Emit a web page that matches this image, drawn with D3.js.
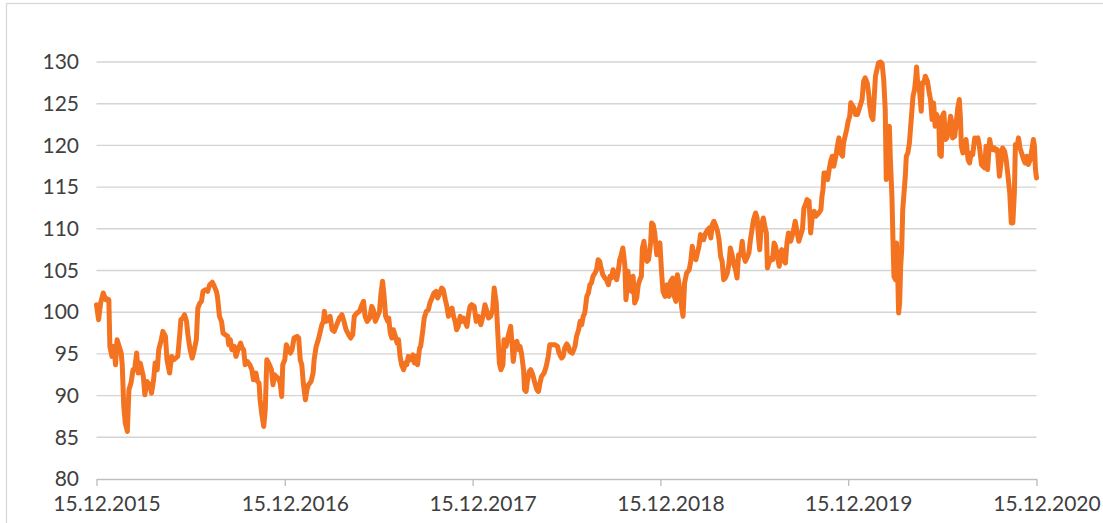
<!DOCTYPE html>
<html>
<head>
<meta charset="utf-8">
<script src="https://cdn.jsdelivr.net/npm/d3@7"></script>
<style>
  body { margin: 0; background: #fff; }
  svg { display: block; }
  .axis text { font-family: Lato, "Open Sans", sans-serif; font-size: 21px; fill: #404040; }
</style>
</head>
<body>
<script>
// index level (15.12.2015 - 15.12.2020)
var dates = [
  "2015-12-15","2015-12-19","2015-12-23","2015-12-28","2016-01-02","2016-01-05","2016-01-08","2016-01-10","2016-01-14","2016-01-18",
  "2016-01-21","2016-01-24","2016-01-29","2016-02-01","2016-02-03","2016-02-06","2016-02-09","2016-02-13","2016-02-16","2016-02-20",
  "2016-02-24","2016-02-27","2016-03-02","2016-03-05","2016-03-09","2016-03-15","2016-03-18","2016-03-22","2016-03-27","2016-03-31",
  "2016-04-04","2016-04-07","2016-04-11","2016-04-14","2016-04-19","2016-04-22","2016-04-27","2016-04-30","2016-05-05","2016-05-09",
  "2016-05-13","2016-05-21","2016-05-25","2016-05-27","2016-05-31","2016-06-03","2016-06-07","2016-06-10","2016-06-14","2016-06-18",
  "2016-06-22","2016-06-26","2016-06-29","2016-07-03","2016-07-06","2016-07-09","2016-07-14","2016-07-18","2016-07-22","2016-07-27",
  "2016-07-31","2016-08-04","2016-08-06","2016-08-10","2016-08-14","2016-08-17","2016-08-21","2016-08-26","2016-08-28","2016-08-31",
  "2016-09-03","2016-09-08","2016-09-11","2016-09-15","2016-09-20","2016-09-23","2016-09-26","2016-09-29","2016-10-03","2016-10-08",
  "2016-10-12","2016-10-15","2016-10-20","2016-10-23","2016-10-26","2016-10-28","2016-10-31","2016-11-04","2016-11-07","2016-11-10",
  "2016-11-15","2016-11-19","2016-11-22","2016-11-25","2016-11-28","2016-12-02","2016-12-06","2016-12-09","2016-12-11","2016-12-15",
  "2016-12-18","2016-12-22","2016-12-26","2016-12-29","2017-01-02","2017-01-08","2017-01-11","2017-01-14","2017-01-17","2017-01-20",
  "2017-01-24","2017-01-27","2017-01-30","2017-02-04","2017-02-08","2017-02-10","2017-02-14","2017-02-19","2017-02-22","2017-02-25",
  "2017-02-28","2017-03-02","2017-03-05","2017-03-10","2017-03-13","2017-03-17","2017-03-21","2017-03-26","2017-03-31","2017-04-05",
  "2017-04-09","2017-04-13","2017-04-18","2017-04-22","2017-04-26","2017-04-29","2017-05-04","2017-05-09","2017-05-14","2017-05-17",
  "2017-05-20","2017-05-24","2017-05-29","2017-06-02","2017-06-05","2017-06-09","2017-06-13","2017-06-17","2017-06-20","2017-06-23",
  "2017-06-26","2017-06-29","2017-07-03","2017-07-05","2017-07-08","2017-07-11","2017-07-14","2017-07-18","2017-07-21","2017-07-24",
  "2017-07-27","2017-07-30","2017-08-03","2017-08-06","2017-08-09","2017-08-12","2017-08-17","2017-08-21","2017-08-24","2017-08-27",
  "2017-08-30","2017-09-03","2017-09-05","2017-09-09","2017-09-12","2017-09-16","2017-09-20","2017-09-23","2017-09-27","2017-10-01",
  "2017-10-05","2017-10-08","2017-10-11","2017-10-16","2017-10-19","2017-10-23","2017-10-26","2017-10-29","2017-11-01","2017-11-05",
  "2017-11-08","2017-11-11","2017-11-14","2017-11-17","2017-11-21","2017-11-24","2017-11-27","2017-11-30","2017-12-04","2017-12-07",
  "2017-12-10","2017-12-13","2017-12-18","2017-12-22","2017-12-26","2017-12-31","2018-01-04","2018-01-08","2018-01-11","2018-01-15",
  "2018-01-19","2018-01-23","2018-01-26","2018-01-30","2018-02-01","2018-02-05","2018-02-08","2018-02-12","2018-02-14","2018-02-18",
  "2018-02-22","2018-02-27","2018-03-02","2018-03-04","2018-03-08","2018-03-11","2018-03-15","2018-03-17","2018-03-20","2018-03-24",
  "2018-03-26","2018-03-29","2018-03-31","2018-04-04","2018-04-07","2018-04-11","2018-04-15","2018-04-19","2018-04-22","2018-04-25",
  "2018-04-28","2018-05-03","2018-05-07","2018-05-11","2018-05-14","2018-05-20","2018-05-24","2018-05-29","2018-06-01","2018-06-06",
  "2018-06-09","2018-06-12","2018-06-16","2018-06-19","2018-06-22","2018-06-27","2018-07-02","2018-07-05","2018-07-09","2018-07-12",
  "2018-07-15","2018-07-18","2018-07-21","2018-07-25","2018-07-28","2018-07-31","2018-08-03","2018-08-06","2018-08-10","2018-08-13",
  "2018-08-16","2018-08-19","2018-08-21","2018-08-25","2018-08-29","2018-09-01","2018-09-05","2018-09-08","2018-09-11","2018-09-14",
  "2018-09-18","2018-09-21","2018-09-24","2018-09-27","2018-09-30","2018-10-03","2018-10-05","2018-10-07","2018-10-09","2018-10-11",
  "2018-10-13","2018-10-17","2018-10-20","2018-10-23","2018-10-26","2018-10-30","2018-11-02","2018-11-05","2018-11-08","2018-11-10",
  "2018-11-13","2018-11-16","2018-11-19","2018-11-22","2018-11-26","2018-11-28","2018-12-01","2018-12-04","2018-12-08","2018-12-11",
  "2018-12-14","2018-12-17","2018-12-20","2018-12-24","2018-12-28","2019-01-01","2019-01-04","2019-01-08","2019-01-11","2019-01-14",
  "2019-01-17","2019-01-20","2019-01-23","2019-01-26","2019-01-28","2019-01-31","2019-02-04","2019-02-09","2019-02-12","2019-02-15",
  "2019-02-18","2019-02-22","2019-02-25","2019-02-28","2019-03-03","2019-03-06","2019-03-09","2019-03-13","2019-03-17","2019-03-20",
  "2019-03-23","2019-03-26","2019-03-29","2019-04-02","2019-04-05","2019-04-08","2019-04-11","2019-04-14","2019-04-17","2019-04-20",
  "2019-04-24","2019-04-27","2019-04-30","2019-05-04","2019-05-07","2019-05-10","2019-05-13","2019-05-16","2019-05-20","2019-05-23",
  "2019-05-26","2019-05-29","2019-06-01","2019-06-05","2019-06-08","2019-06-11","2019-06-14","2019-06-18","2019-06-21","2019-06-24",
  "2019-06-26","2019-06-29","2019-07-03","2019-07-06","2019-07-09","2019-07-11","2019-07-14","2019-07-18","2019-07-21","2019-07-24",
  "2019-07-27","2019-07-30","2019-08-03","2019-08-05","2019-08-08","2019-08-12","2019-08-15","2019-08-18","2019-08-21","2019-08-25",
  "2019-08-28","2019-08-31","2019-09-03","2019-09-07","2019-09-10","2019-09-13","2019-09-17","2019-09-20","2019-09-23","2019-09-26",
  "2019-09-30","2019-10-03","2019-10-06","2019-10-10","2019-10-13","2019-10-16","2019-10-19","2019-10-23","2019-10-25","2019-10-27",
  "2019-10-29","2019-11-01","2019-11-05","2019-11-08","2019-11-11","2019-11-14","2019-11-17","2019-11-21","2019-11-24","2019-11-27",
  "2019-11-30","2019-12-04","2019-12-06","2019-12-09","2019-12-12","2019-12-15","2019-12-18","2019-12-20","2019-12-22","2019-12-26",
  "2019-12-29","2020-01-02","2020-01-04","2020-01-08","2020-01-11","2020-01-14","2020-01-17","2020-01-21","2020-01-24","2020-01-26",
  "2020-01-29","2020-02-01","2020-02-03","2020-02-06","2020-02-09","2020-02-12","2020-02-16","2020-02-19","2020-02-22","2020-02-25",
  "2020-02-27","2020-03-01","2020-03-04","2020-03-06","2020-03-09","2020-03-11","2020-03-13","2020-03-16","2020-03-18","2020-03-20",
  "2020-03-22","2020-03-24","2020-03-26","2020-03-28","2020-03-30","2020-04-01","2020-04-04","2020-04-06","2020-04-09","2020-04-12",
  "2020-04-16","2020-04-19","2020-04-22","2020-04-24","2020-04-26","2020-04-28","2020-05-02","2020-05-05","2020-05-07","2020-05-10",
  "2020-05-13","2020-05-17","2020-05-20","2020-05-23","2020-05-26","2020-05-29","2020-06-01","2020-06-04","2020-06-08","2020-06-10",
  "2020-06-13","2020-06-15","2020-06-18","2020-06-21","2020-06-24","2020-06-27","2020-07-01","2020-07-03","2020-07-05","2020-07-09",
  "2020-07-12","2020-07-15","2020-07-18","2020-07-20","2020-07-22","2020-07-25","2020-07-28","2020-07-31","2020-08-04","2020-08-07",
  "2020-08-10","2020-08-13","2020-08-17","2020-08-20","2020-08-23","2020-08-26","2020-08-30","2020-09-02","2020-09-05","2020-09-08",
  "2020-09-11","2020-09-15","2020-09-18","2020-09-21","2020-09-24","2020-09-28","2020-09-30","2020-10-04","2020-10-07","2020-10-10",
  "2020-10-14","2020-10-17","2020-10-20","2020-10-24","2020-10-27","2020-10-30","2020-11-02","2020-11-04","2020-11-07","2020-11-10",
  "2020-11-13","2020-11-16","2020-11-20","2020-11-23","2020-11-26","2020-11-29","2020-12-03","2020-12-06","2020-12-09","2020-12-11",
  "2020-12-13","2020-12-15"
];

var values = [
  100.9, 99.1, 101.1, 102.3, 101.5, 101.6, 101.5, 95.9, 94.7, 95.9,
  93.7, 96.7, 95.7, 95.1, 93.7, 88.7, 86.7, 85.7, 90.7, 91.5,
  93.1, 93.1, 95.1, 92.7, 93.9, 92.3, 90.1, 91.7, 91.3, 90.3,
  91.9, 93.9, 93.1, 95.5, 96.7, 97.7, 97.1, 94.3, 92.7, 94.7,
  94.3, 94.7, 97.5, 99.1, 99.3, 99.7, 98.9, 97.1, 95.5, 94.5,
  95.5, 96.7, 100.5, 101.1, 101.3, 102.5, 102.7, 102.5, 103.3, 103.6,
  103.1, 102.5, 101.9, 99.5, 98.9, 97.5, 97.3, 97.1, 96.1, 96.7,
  95.5, 95.9, 94.7, 95.5, 96.3, 95.7, 95.5, 93.7, 94.1, 93.7,
  93.1, 91.9, 92.7, 91.7, 91.5, 89.5, 87.9, 86.3, 88.3, 94.3,
  93.7, 93.1, 91.3, 92.5, 92.3, 92.1, 91.5, 89.9, 93.7, 94.3,
  96.1, 95.5, 95.1, 95.5, 96.9, 97.1, 96.9, 94.3, 93.7, 91.5,
  89.5, 90.7, 91.3, 91.7, 92.7, 94.3, 95.9, 96.9, 97.7, 98.5,
  98.9, 100.1, 98.9, 99.1, 99.5, 97.9, 97.7, 98.5, 99.3, 99.7,
  98.9, 97.9, 97.3, 96.9, 97.3, 99.5, 99.9, 100.1, 100.9, 101.3,
  99.5, 98.9, 99.3, 100.7, 100.3, 98.9, 99.5, 100.1, 102.3, 103.7,
  101.9, 99.5, 98.9, 99.3, 97.5, 96.9, 97.9, 97.1, 96.3, 96.7,
  94.7, 93.7, 93.1, 93.9, 93.7, 94.7, 94.3, 94.9, 93.9, 94.7,
  93.7, 95.7, 95.9, 97.7, 99.3, 100.1, 100.3, 101.1, 101.7, 102.3,
  102.5, 101.7, 102.1, 102.9, 102.7, 101.5, 100.7, 99.5, 100.1, 100.5,
  99.5, 98.9, 97.9, 98.3, 99.5, 98.9, 99.3, 98.9, 98.3, 99.7,
  100.7, 100.9, 100.7, 98.9, 99.5, 98.5, 99.5, 100.9, 100.3, 99.3,
  99.5, 100.3, 102.9, 101.1, 98.7, 93.9, 93.1, 93.7, 96.7, 95.9,
  97.1, 98.3, 95.9, 94.1, 96.3, 96.5, 95.5, 95.9, 95.1, 93.1,
  90.7, 90.5, 91.5, 92.9, 93.1, 92.5, 91.5, 90.7, 90.5, 91.5,
  92.3, 92.7, 93.5, 94.7, 96.1, 96.1, 96.1, 95.9, 95.1, 94.5,
  94.7, 95.7, 96.2, 95.9, 95.3, 95.1, 95.9, 97.1, 97.9, 98.9,
  98.5, 99.5, 99.9, 101.9, 102.3, 103.3, 103.5, 104.3, 104.7, 105.1,
  106.3, 106.1, 105.5, 104.5, 104.1, 103.9, 103.3, 104.3, 104.1, 105.1,
  104.5, 103.9, 104.9, 106.3, 106.9, 107.7, 106.7, 105.5, 101.5, 102.7,
  104.9, 102.7, 102.5, 104.3, 101.1, 101.7, 103.3, 103.9, 104.3, 107.7,
  108.5, 106.7, 106.1, 106.3, 108.3, 110.7, 110.5, 109.5, 106.9, 108.1,
  108.3, 105.1, 102.5, 101.9, 103.3, 101.9, 103.7, 104.1, 101.9, 101.3,
  104.5, 103.5, 101.9, 100.3, 99.5, 103.5, 104.7, 105.1, 106.1, 107.9,
  106.7, 106.3, 107.1, 107.9, 109.3, 109.1, 108.7, 109.5, 109.9, 110.1,
  108.9, 110.5, 110.9, 110.3, 109.7, 108.7, 106.7, 106.1, 103.9, 104.1,
  104.7, 105.7, 107.7, 106.7, 105.7, 105.1, 104.1, 106.9, 106.9, 108.5,
  106.7, 106.1, 106.5, 107.1, 108.7, 109.9, 111.1, 111.9, 111.3, 108.7,
  107.5, 110.3, 111.3, 110.3, 109.5, 105.3, 105.9, 106.5, 106.3, 108.3,
  107.9, 106.7, 105.5, 107.1, 107.5, 106.1, 105.9, 108.3, 109.5, 108.5,
  109.1, 109.9, 110.9, 109.5, 108.5, 109.1, 109.9, 112.5, 112.9, 113.5,
  113.3, 109.5, 111.3, 112.1, 111.5, 111.7, 111.9, 112.3, 113.9, 114.7,
  116.7, 116.7, 115.9, 117.1, 118.1, 118.7, 117.5, 118.7, 119.9, 120.9,
  119.1, 118.7, 120.3, 121.1, 121.9, 122.9, 123.5, 125.1, 124.9, 124.5,
  123.7, 123.7, 124.1, 124.9, 125.5, 127.7, 128.1, 127.5, 126.1, 124.7,
  123.5, 123.1, 125.1, 128.3, 129.1, 129.9, 130.0, 129.8, 127.9, 124.3,
  115.9, 117.1, 122.3, 118.3, 113.9, 108.7, 104.3, 103.9, 108.3, 105.1,
  99.9, 101.1, 105.5, 107.5, 112.3, 113.9, 116.3, 118.7, 119.1, 120.3,
  123.5, 125.9, 126.7, 127.9, 129.4, 127.5, 126.3, 124.1, 127.5, 127.5,
  128.3, 127.7, 126.5, 125.5, 123.1, 125.1, 122.3, 123.7, 122.9, 118.9,
  118.7, 123.5, 123.9, 120.7, 120.9, 121.7, 123.5, 122.9, 120.9, 121.1,
  122.7, 124.5, 125.5, 123.5, 119.9, 119.1, 119.5, 120.7, 118.3, 117.9,
  119.1, 118.9, 120.9, 120.7, 120.9, 119.9, 117.7, 117.5, 117.3, 119.9,
  117.1, 120.7, 119.7, 119.5, 119.7, 119.3, 119.5, 116.3, 117.9, 119.7,
  119.3, 118.3, 116.7, 114.3, 110.7, 110.7, 114.3, 120.1, 119.7, 120.9,
  119.7, 119.1, 118.3, 117.9, 118.7, 117.7, 118.3, 119.5, 120.7, 119.9,
  117.1, 116.1
];

var yTicks = [80, 85, 90, 95, 100, 105, 110, 115, 120, 125, 130];
var xTickLabels = ["15.12.2015", "15.12.2016", "15.12.2017", "15.12.2018", "15.12.2019", "15.12.2020"];

// dimensions chart
var width = 1103;
var height = 523;
var plot = {left: 96.5, right: 1036.5, top: 62, bottom: 479};

var parseDay = d3.timeParse("%Y-%m-%d");
var parseTick = d3.timeParse("%d.%m.%Y");

var data = dates.map(function(d, i) {
  return {date: parseDay(d), value: values[i]};
});
var tickDates = xTickLabels.map(parseTick);

var xScale = d3.scaleTime()
  .domain([tickDates[0], tickDates[tickDates.length - 1]])
  .range([plot.left, plot.right]);

var yScale = d3.scaleLinear()
  .domain([yTicks[0], yTicks[yTicks.length - 1]])
  .range([plot.bottom, plot.top]);

var svg = d3.select("body")
  .append("svg")
  .attr("width", width)
  .attr("height", height);

// chart frame (runs off to the right and bottom)
svg.append("rect")
  .attr("x", 6.5)
  .attr("y", 3.5)
  .attr("width", 1120)
  .attr("height", 560)
  .attr("fill", "none")
  .attr("stroke", "#d9d9d9")
  .attr("stroke-width", 1.3);

// horizontal gridlines
svg.append("g")
  .selectAll("line")
  .data(yTicks.slice(1))
  .enter()
  .append("line")
  .attr("x1", plot.left)
  .attr("x2", plot.right)
  .attr("y1", function(d) { return yScale(d); })
  .attr("y2", function(d) { return yScale(d); })
  .attr("stroke", "#d4d4d4")
  .attr("stroke-width", 1.4);

// y axis, labels only
var yAxis = d3.axisLeft(yScale)
  .tickValues(yTicks)
  .tickSize(0)
  .tickPadding(17.5);

svg.append("g")
  .attr("class", "axis")
  .attr("transform", "translate(" + plot.left + ",0)")
  .call(yAxis)
  .call(function(g) { g.select(".domain").remove(); });

// x axis
var xAxis = d3.axisBottom(xScale)
  .tickValues(tickDates)
  .tickFormat(d3.timeFormat("%d.%m.%Y"))
  .tickSizeInner(7)
  .tickSizeOuter(0)
  .tickPadding(10);

var gx = svg.append("g")
  .attr("class", "axis")
  .attr("transform", "translate(0," + plot.bottom + ")")
  .call(xAxis);

gx.select(".domain").attr("stroke", "#bfbfbf").attr("stroke-width", 1.4);
gx.selectAll(".tick line").attr("stroke", "#bfbfbf").attr("stroke-width", 1.4);
gx.selectAll(".tick text").attr("dx", 10);

// the index line
var line = d3.line()
  .x(function(d) { return xScale(d.date); })
  .y(function(d) { return yScale(d.value); });

svg.append("path")
  .datum(data)
  .attr("d", line)
  .attr("fill", "none")
  .attr("stroke", "#f47321")
  .attr("stroke-width", 5)
  .attr("stroke-linejoin", "round")
  .attr("stroke-linecap", "round");
</script>
</body>
</html>
